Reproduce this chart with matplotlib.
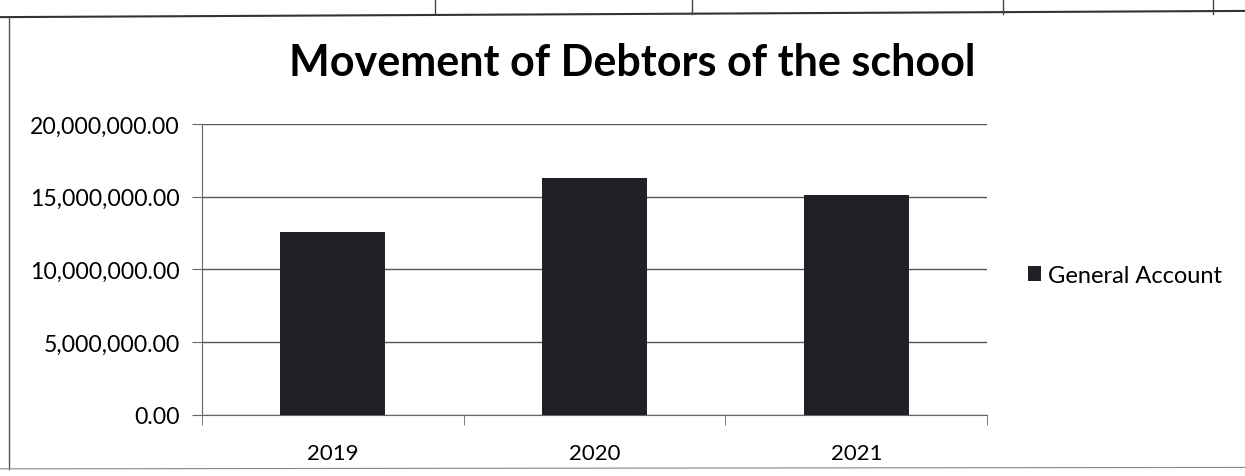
import matplotlib.pyplot as plt
from matplotlib.ticker import FuncFormatter
from matplotlib.lines import Line2D

# Debtors balance per year (General Account)
years = ["2019", "2020", "2021"]
general_account = [12600000, 16300000, 15150000]
y_ticks = [0, 5000000, 10000000, 15000000, 20000000]

plt.rcParams["font.family"] = ["Lato", "DejaVu Sans"]

fig = plt.figure(figsize=(12.45, 4.77), dpi=100)
ax = fig.add_axes([0.162, 0.128, 0.631, 0.610])

x = range(len(years))
ax.bar(x, general_account, width=0.4, color="#202026", label="General Account", zorder=3)

ax.set_xlim(-0.5, len(years) - 0.5)
ax.set_ylim(0, 20000000)
ax.set_yticks(y_ticks)
ax.yaxis.set_major_formatter(FuncFormatter(lambda v, p: f"{v:,.2f}"))
ax.set_xticks(list(x))
ax.set_xticklabels(years)
ax.set_xticks([i - 0.5 for i in range(len(years) + 1)], minor=True)

ax.grid(axis="y", color="#555555", linewidth=1.0, zorder=0)
for side in ["top", "right"]:
    ax.spines[side].set_visible(False)
ax.spines["left"].set_color("#666666")
ax.spines["bottom"].set_color("#666666")

ax.tick_params(axis="y", labelsize=16.6, length=7, color="#666666", pad=9)
ax.tick_params(axis="x", which="major", length=0, labelsize=16, pad=20)
ax.tick_params(axis="x", which="minor", length=7, color="#666666")

fig.text(0.508, 0.868, "Movement of Debtors of the school",
         ha="center", va="center", fontsize=31, fontweight="bold")

ax.legend(loc="center left", bbox_to_anchor=(1.025, 0.48), frameon=False,
          fontsize=17, handlelength=0.55, handleheight=0.55, handletextpad=0.3)

# Page frame lines around the chart
fig.add_artist(Line2D([0, 1], [0.962, 0.975], transform=fig.transFigure,
                      color="#333333", linewidth=1.5))
fig.add_artist(Line2D([0.007, 0.007], [0.015, 0.962], transform=fig.transFigure,
                      color="#555555", linewidth=1.0))
fig.add_artist(Line2D([0, 1], [0.015, 0.018], transform=fig.transFigure,
                      color="#888888", linewidth=0.8))
for xf in [0.349, 0.556, 0.806, 0.974]:
    fig.add_artist(Line2D([xf, xf], [0.968, 1.0], transform=fig.transFigure,
                          color="#444444", linewidth=1.0))

fig.savefig("out.png", dpi=100, facecolor="white")
